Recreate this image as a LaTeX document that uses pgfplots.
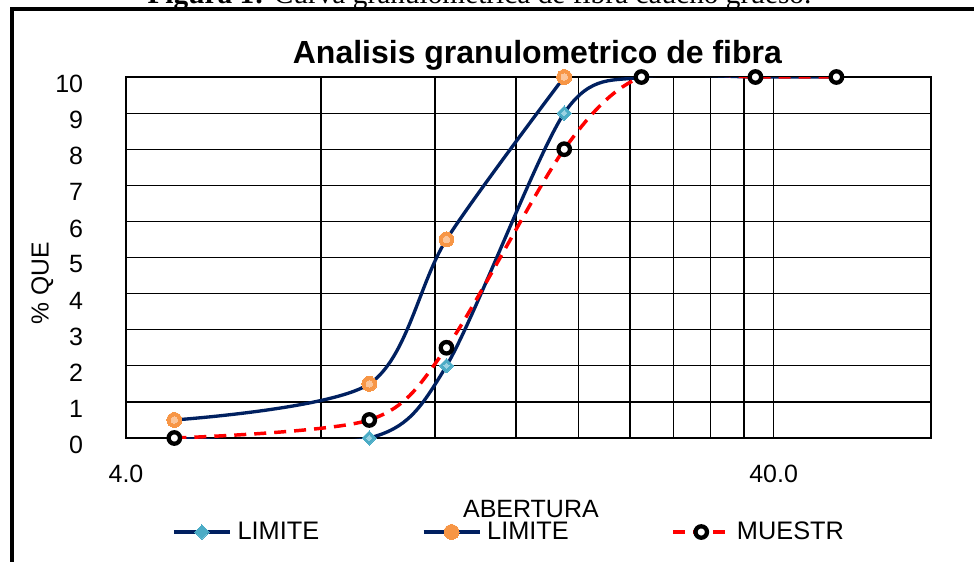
\documentclass[border=0pt]{standalone}
\usepackage{pgfplots}
\pgfplotsset{compat=1.18}
\usepackage{fontspec}
\setmainfont{Liberation Sans}
\newfontfamily\capfont{Liberation Serif}
\definecolor{navy}{HTML}{002060}
\definecolor{orng}{HTML}{F79646}
\definecolor{orngl}{HTML}{FBC59A}
\definecolor{teal1}{HTML}{4BACC6}
\definecolor{teall}{HTML}{9BD3E3}
\begin{document}
\begin{tikzpicture}
\useasboundingbox (0,0) rectangle (730.5pt,-420.75pt);
\clip (0,0) rectangle (730.5pt,-420.75pt);
\draw[line width=3pt] (9pt,-6.75pt) rectangle (760pt,-460pt);
\node[anchor=base, inner sep=0pt, font=\capfont\fontsize{22}{26}\selectfont] at (359.6pt,-2.5pt) {\textbf{Figura 1:} Curva granulométrica de fibra caucho grueso.};
\begin{axis}[
  at={(94.5pt,-328.5pt)}, anchor=south west,
  scale only axis, width=603.75pt, height=270.75pt,
  xmode=log, xmin=4, xmax=70, ymin=0, ymax=10,
  clip mode=individual,
  xtick={4,40}, xticklabels={4.0,40.0},
  minor xtick={8,12,16,20,24,28,32,36},
  ytick={0,1,...,10},
  xmajorgrids, xminorgrids, ymajorgrids,
  grid style={black, line width=0.9pt},
  minor grid style={black, line width=0.9pt},
  major tick length=0pt, minor tick length=0pt,
  axis line style={black, line width=1.4pt},
  /pgf/number format/assume math mode=true,
  tick label style={font=\fontsize{18.75}{22}\selectfont},
  yticklabel style={anchor=east, inner sep=0pt, xshift=-32pt, yshift=-5.25pt},
  xticklabel style={anchor=north, inner sep=0pt, yshift=-20.25pt},
  title={Analisis granulometrico de fibra},
  title style={font=\bfseries\fontsize{24}{28}\selectfont, at={(axis description cs:0.511,1.014)}, anchor=base, inner sep=0pt},
  xlabel={ABERTURA},
  xlabel style={font=\fontsize{18.75}{22}\selectfont, at={(axis description cs:0.503,-0.1967)}, anchor=center, inner sep=0pt},
  ylabel={\% QUE},
  ylabel style={font=\fontsize{18.5}{22}\selectfont, at={(axis description cs:-0.104,0.429)}, anchor=center, inner sep=0pt},
  legend columns=3,
  legend cell align=left,
  legend style={at={(axis description cs:0.0571,-0.2604)}, anchor=west, draw=none, fill=none, inner sep=0pt,
    font=\fontsize{19}{22}\selectfont, nodes={inner sep=0pt},
    /tikz/every odd column/.append style={column sep=4.5pt},
    /tikz/every even column/.append style={column sep=77pt}},
  legend image code/.code={\draw[mark repeat=2,mark phase=2,#1] plot coordinates {(0pt,0pt) (21pt,0pt) (42pt,0pt)};},
]
\addplot[navy, line width=2.5pt, smooth, mark=square*, mark size=3.8pt,
  mark options={rotate=45, solid, fill=teal1, draw=teal1, line width=0pt}]
  coordinates {(4.75,0) (9.5,0) (12.5,2) (19,9) (25,10) (37.5,10) (50,10)};
\addlegendentry{LIMITE}
\addplot[only marks, forget plot, mark=square*, mark size=1.4pt,
  mark options={rotate=45, fill=teall, draw=teall, line width=0pt}]
  coordinates {(9.5,0) (12.5,2) (19,9)};
\addplot[navy, line width=2.5pt, smooth, mark=*, mark size=5.6pt,
  mark options={solid, fill=orng, draw=orng, line width=0pt}]
  coordinates {(4.75,0.5) (9.5,1.5) (12.5,5.5) (19,10)};
\addlegendentry{LIMITE}
\addplot[only marks, forget plot, mark=*, mark size=2.4pt,
  mark options={fill=orngl, draw=orngl, line width=0pt}]
  coordinates {(4.75,0.5) (9.5,1.5) (12.5,5.5) (19,10)};
\addplot[red, line width=2.6pt, smooth, dash pattern=on 9pt off 6pt, mark=*, mark size=4.3pt,
  mark options={solid, fill=white, draw=black, line width=3.2pt}]
  coordinates {(4.75,0) (9.5,0.5) (12.5,2.5) (19,8) (25,10) (37.5,10) (50,10)};
\addlegendentry{MUESTR}
\end{axis}
\end{tikzpicture}
\end{document}
